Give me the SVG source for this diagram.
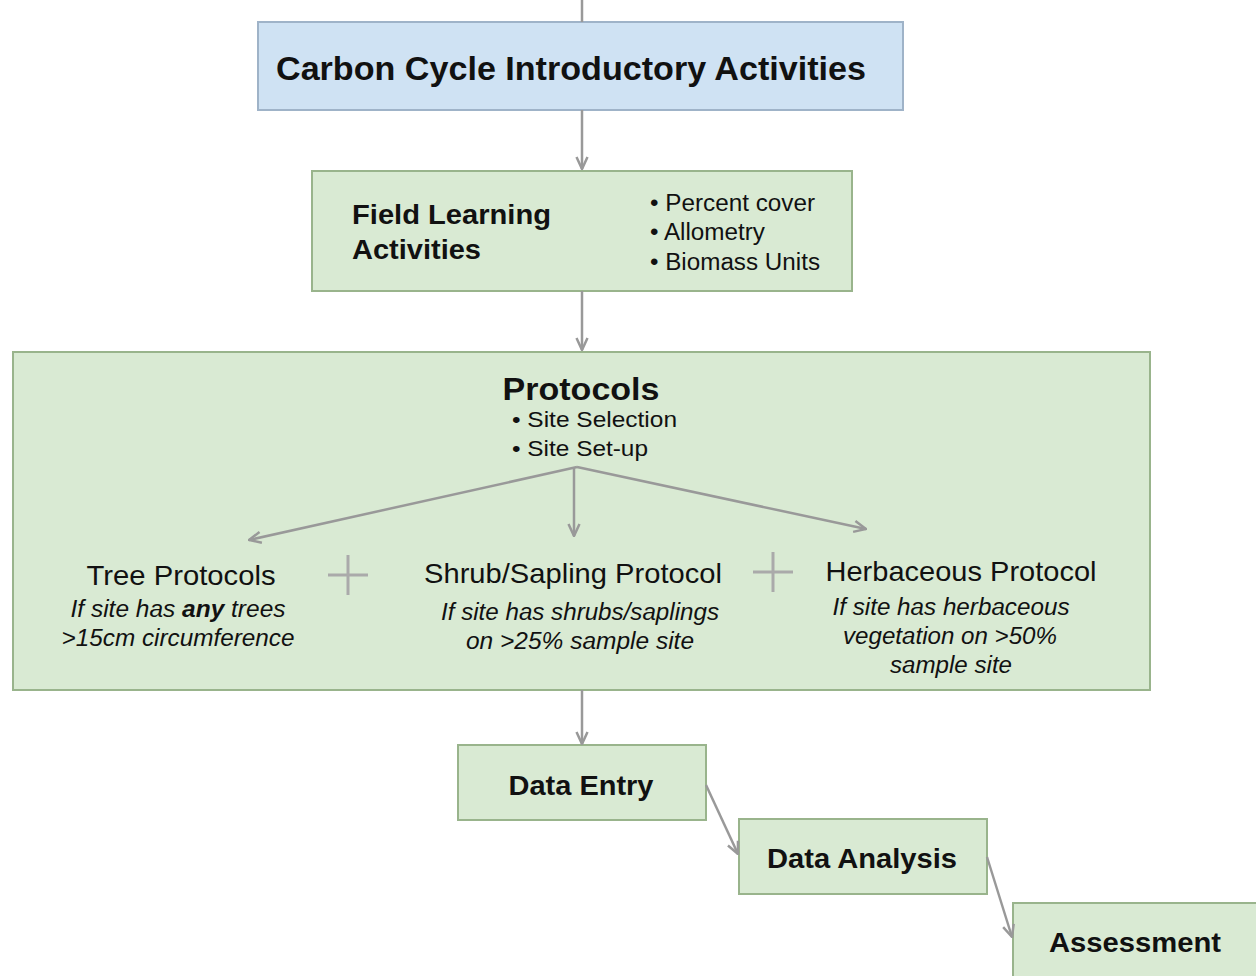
<svg xmlns="http://www.w3.org/2000/svg" width="1256" height="976" viewBox="0 0 1256 976">
<defs>
<style>
.bl{fill:#cfe2f3;stroke:#9fb3c8;stroke-width:2}
.gr{fill:#d9ead3;stroke:#99b48c;stroke-width:2}
.t{font-family:"Liberation Sans",Arial,sans-serif;fill:#111}
.b{font-weight:bold}
.i{font-style:italic}
.c{stroke:#999;stroke-width:2.5;fill:none}
</style>
<marker id="ah" viewBox="0 0 14 14" refX="13" refY="7" markerWidth="14" markerHeight="14" markerUnits="userSpaceOnUse" orient="auto">
<path d="M1,1.5 L13,7 L1,12.5" fill="none" stroke="#999" stroke-width="2.5"/>
</marker>
</defs>
<rect width="1256" height="976" fill="#fff"/>
<g id="intro">
<rect class="bl" x="258" y="22" width="645" height="88"/>
<text class="t b" x="571" y="80" font-size="33" text-anchor="middle" textLength="590" lengthAdjust="spacingAndGlyphs">Carbon Cycle Introductory Activities</text>
</g>
<g id="field">
<rect class="gr" x="312" y="171" width="540" height="120"/>
<text class="t b" x="352" y="224" font-size="28" textLength="199" lengthAdjust="spacingAndGlyphs">Field Learning</text>
<text class="t b" x="352" y="259" font-size="28" textLength="129" lengthAdjust="spacingAndGlyphs">Activities</text>
<text class="t" x="650" y="211" font-size="23" textLength="165" lengthAdjust="spacingAndGlyphs">• Percent cover</text>
<text class="t" x="650" y="240" font-size="23" textLength="115" lengthAdjust="spacingAndGlyphs">• Allometry</text>
<text class="t" x="650" y="270" font-size="23" textLength="170" lengthAdjust="spacingAndGlyphs">• Biomass Units</text>
</g>
<g id="protocols">
<rect class="gr" x="13" y="352" width="1137" height="338"/>
<text class="t b" x="581" y="400" font-size="31" text-anchor="middle" textLength="157" lengthAdjust="spacingAndGlyphs">Protocols</text>
<text class="t" x="512" y="427" font-size="22" textLength="165" lengthAdjust="spacingAndGlyphs">• Site Selection</text>
<text class="t" x="512" y="456" font-size="22" textLength="136" lengthAdjust="spacingAndGlyphs">• Site Set-up</text>
<g stroke="#aaa" stroke-width="3">
<line x1="328" y1="575" x2="368" y2="575"/><line x1="348" y1="555" x2="348" y2="595"/>
<line x1="753" y1="572" x2="793" y2="572"/><line x1="773" y1="552" x2="773" y2="592"/>
</g>
</g>
<g id="tree">
<text class="t" x="181" y="585" font-size="28" text-anchor="middle" textLength="189" lengthAdjust="spacingAndGlyphs">Tree Protocols</text>
<text class="t i" x="178" y="617" font-size="23" text-anchor="middle" textLength="215" lengthAdjust="spacingAndGlyphs">If site has <tspan class="b">any</tspan> trees</text>
<text class="t i" x="178" y="646" font-size="23" text-anchor="middle" textLength="233" lengthAdjust="spacingAndGlyphs">&gt;15cm circumference</text>
</g>
<g id="shrub">
<text class="t" x="573" y="583" font-size="28" text-anchor="middle" textLength="298" lengthAdjust="spacingAndGlyphs">Shrub/Sapling Protocol</text>
<text class="t i" x="580" y="620" font-size="23" text-anchor="middle" textLength="278" lengthAdjust="spacingAndGlyphs">If site has shrubs/saplings</text>
<text class="t i" x="580" y="649" font-size="23" text-anchor="middle" textLength="228" lengthAdjust="spacingAndGlyphs">on &gt;25% sample site</text>
</g>
<g id="herb">
<text class="t" x="961" y="581" font-size="28" text-anchor="middle" textLength="271" lengthAdjust="spacingAndGlyphs">Herbaceous Protocol</text>
<text class="t i" x="951" y="615" font-size="23" text-anchor="middle" textLength="237" lengthAdjust="spacingAndGlyphs">If site has herbaceous</text>
<text class="t i" x="950" y="644" font-size="23" text-anchor="middle" textLength="214" lengthAdjust="spacingAndGlyphs">vegetation on &gt;50%</text>
<text class="t i" x="951" y="673" font-size="23" text-anchor="middle" textLength="122" lengthAdjust="spacingAndGlyphs">sample site</text>
</g>
<g id="entry">
<rect class="gr" x="458" y="745" width="248" height="75"/>
<text class="t b" x="581" y="795" font-size="28" text-anchor="middle" textLength="145" lengthAdjust="spacingAndGlyphs">Data Entry</text>
</g>
<g id="analysis">
<rect class="gr" x="739" y="819" width="248" height="75"/>
<text class="t b" x="862" y="868" font-size="28" text-anchor="middle" textLength="190" lengthAdjust="spacingAndGlyphs">Data Analysis</text>
</g>
<g id="assessment">
<rect class="gr" x="1013" y="903" width="248" height="80"/>
<text class="t b" x="1135" y="952" font-size="28" text-anchor="middle" textLength="172" lengthAdjust="spacingAndGlyphs">Assessment</text>
</g>
<g id="connectors">
<line class="c" x1="582" y1="0" x2="582" y2="22"/>
<line class="c" x1="582" y1="110" x2="582" y2="169" marker-end="url(#ah)"/>
<line class="c" x1="582" y1="291" x2="582" y2="350" marker-end="url(#ah)"/>
<line class="c" x1="577" y1="467" x2="249" y2="540" marker-end="url(#ah)"/>
<line class="c" x1="574" y1="467" x2="574" y2="536" marker-end="url(#ah)"/>
<line class="c" x1="577" y1="467" x2="866" y2="529" marker-end="url(#ah)"/>
<line class="c" x1="582" y1="690" x2="582" y2="744" marker-end="url(#ah)"/>
<line class="c" x1="706" y1="785" x2="738" y2="854" marker-end="url(#ah)"/>
<line class="c" x1="987" y1="857" x2="1012" y2="937" marker-end="url(#ah)"/>
</g>
</svg>
